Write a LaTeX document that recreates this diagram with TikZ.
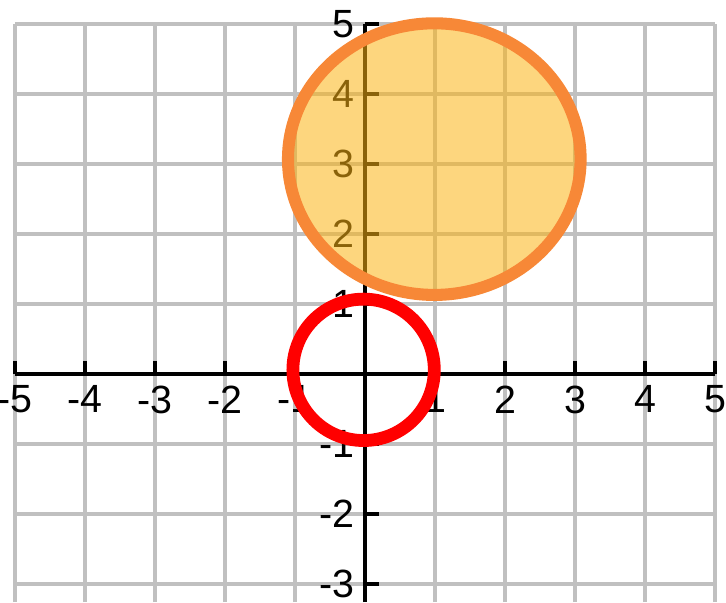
\documentclass[tikz,border=0pt]{standalone}
\usepackage{fontspec}
\setmainfont{Liberation Sans}
\usepackage{xcolor}

\definecolor{gradegray}{RGB}{192,192,192}
\definecolor{discofill}{RGB}{252,180,20}
\definecolor{discoborda}{RGB}{247,136,55}

\begin{document}
\begin{tikzpicture}[
    every node/.style={font=\fontsize{16}{18}\selectfont},
    grade/.style={
        draw=gradegray,
        line width=1.3pt
    },
    eixo/.style={
        draw=black,
        line width=1.3pt
    },
    rotulo/.style={
        inner sep=0pt,
        text=black
    },
    disco/.style={
        draw=discoborda,
        line width=4.9pt,
        fill=discofill,
        fill opacity=0.55,
        draw opacity=1
    },
    anel/.style={
        draw=red,
        line width=5.2pt
    }
]

\useasboundingbox (-5.214,-3.257) rectangle (5.157,5.343);

% ============================================================
% GRADE
% ============================================================

\foreach \x in {-5,...,5}
    \draw[grade] (\x,-3.257) -- (\x,5);

\foreach \y in {-3,...,5}
    \draw[grade] (-5,\y) -- (5,\y);

% ============================================================
% EIXOS
% ============================================================

\draw[eixo] (-5,0) -- (5,0);
\draw[eixo] (0,-3.257) -- (0,5);

% Marcas
\foreach \x in {-5,...,5}
    \draw[eixo] (\x,0) -- (\x,0.19);

\foreach \y in {-3,...,5}
    \draw[eixo] (0,\y) -- (0.2,\y);

% Rotulos
\foreach \x in {-5,-4,-3,-2,-1,1,2,3,4,5}
    \node[
        rotulo,
        anchor=north
    ] (xl\x) at (\x,-0.16) {\x};

\foreach \y in {-3,-2,-1,1,2,3,4,5}
    \node[
        rotulo,
        anchor=east
    ] (yl\y) at (-0.14,\y) {\y};

% ============================================================
% CIRCULOS
% ============================================================

% Disco laranja
\draw[disco] (0.99,3.07) ellipse [x radius=2.09, y radius=1.94];

% Anel vermelho
\draw[anel] (-0.02,0.06) circle (1.01);

\end{tikzpicture}
\end{document}
